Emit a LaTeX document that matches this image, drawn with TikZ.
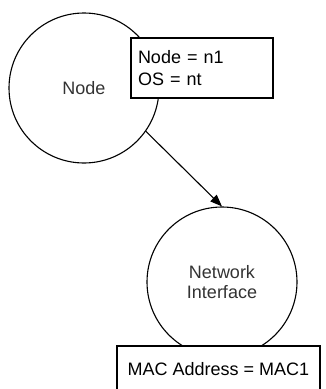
\documentclass[tikz,border=0pt]{standalone}
\usepackage{fontspec}
\setmainfont{Liberation Sans}
\usetikzlibrary{arrows.meta}
\begin{document}
\begin{tikzpicture}[
    x=1pt, y=-1pt,
    >={Triangle[length=12pt,width=9pt]},
    ent/.style={
        draw,
        circle,
        line width=1.1pt,
        minimum size=150pt,
        inner sep=0pt,
        align=center,
        text=black!80,
        font=\fontsize{18}{20}\selectfont
    },
    attr/.style={
        draw,
        fill=white,
        line width=1.3pt,
        inner sep=0pt,
        font=\fontsize{18}{22}\selectfont
    },
    arr/.style={->, line width=1.1pt}
]
    \clip (0,0) rectangle (326,389);

    \node[ent] (node) at (84,88) {Node};
    \node[ent] (nic) at (222,282) {Network\\Interface};

    \node[attr, minimum width=142pt, minimum height=60pt,
        text width=128pt, align=left] (nodeattr) at (202,68)
        {Node = n1\\OS = nt};
    \node[attr, minimum width=203pt, minimum height=46pt]
        (nicattr) at (218.5,369) {MAC Address = MAC1};

    \draw[arr] (node.-35) -- (nic.north);
\end{tikzpicture}
\end{document}
